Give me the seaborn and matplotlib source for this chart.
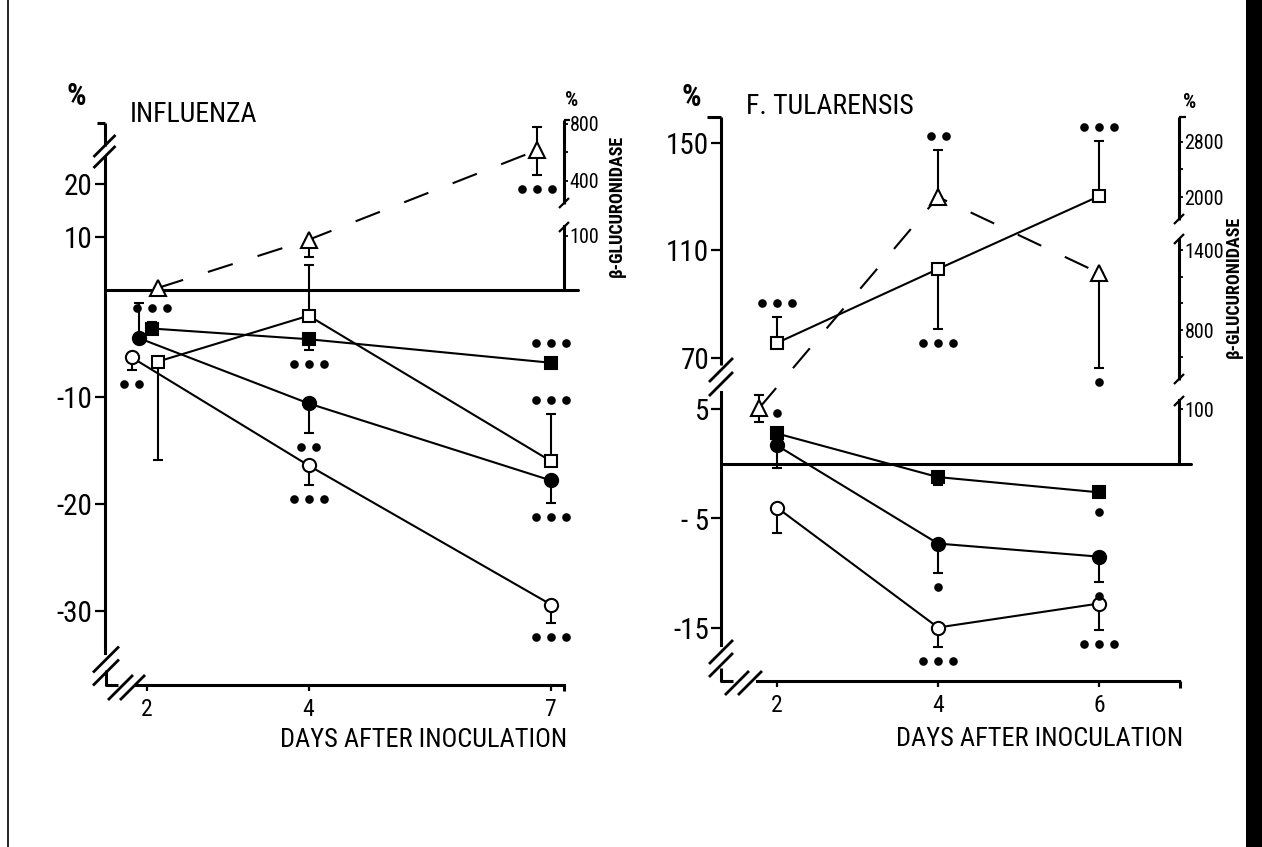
import numpy as np
import matplotlib
matplotlib.use("Agg")
import matplotlib.pyplot as plt
import matplotlib.transforms as mtransforms
from matplotlib.lines import Line2D
from matplotlib.patches import Rectangle
from matplotlib import font_manager
import seaborn as sns

# ---------------- values ----------------
# INFLUENZA (days 2, 4, 7); % change, triangles = beta-glucuronidase (right axis)
flu_days = [2, 4, 7]

flu_ocirc = [-6.3, -16.4, -29.4]
flu_ocirc_lo = [1.2, 1.8, 1.7]
flu_ocirc_hi = [0, 0, 0]
flu_ocirc_sig = [-2, -3, -3]

flu_fcirc = [-4.5, -10.6, -17.8]
flu_fcirc_lo = [0, 2.8, 2.1]
flu_fcirc_hi = [3.3, 0, 0]
flu_fcirc_sig = [0, -2, -3]

flu_fsq = [-3.6, -4.6, -6.8]
flu_fsq_lo = [0, 1.0, 0]
flu_fsq_hi = [0.6, 0, 0]
flu_fsq_sig = [3, -3, 3]

flu_osq = [-6.7, -2.4, -16.0]
flu_osq_lo = [9.2, 0, 0]
flu_osq_hi = [0, 7.1, 4.4]
flu_osq_sig = [0, 0, 3]

flu_gluc = [4, 93, 617]
flu_gluc_lo = [0, 32, 175]
flu_gluc_hi = [0, 0, 161]
flu_gluc_sig = [0, 0, -3]

# F. TULARENSIS (days 2, 4, 6)
tul_days = [2, 4, 6]

tul_ocirc = [-4.0, -15.0, -12.8]
tul_ocirc_lo = [2.3, 1.8, 2.4]
tul_ocirc_hi = [0, 0, 0]
tul_ocirc_sig = [0, -3, -3]

tul_fcirc = [1.7, -7.3, -8.5]
tul_fcirc_lo = [2.1, 2.7, 2.3]
tul_fcirc_hi = [0, 0, 0]
tul_fcirc_sig = [0, -1, -1]

tul_fsq = [2.8, -1.2, -2.6]
tul_fsq_lo = [0, 0.7, 0]
tul_fsq_hi = [0, 0, 0]
tul_fsq_sig = [1, 0, -1]

tul_osq = [75.6, 103.1, 130.2]
tul_osq_lo = [0, 22.3, 0]
tul_osq_hi = [9.7, 0, 20.5]
tul_osq_sig = [3, -3, 3]

tul_gluc = [102, 2000, 1228]
tul_gluc_lo = [26, 0, 713]
tul_gluc_hi = [24, 684, 0]
tul_gluc_sig = [0, 2, -1]

flu_left_ticks = [20, 10, -10, -20, -30]
flu_left_labels = ["20", "10", "-10", "-20", "-30"]
flu_right_ticks = [100, 400, 600, 800]
flu_right_labels = ["100", "400", "", "800"]
tul_left_ticks = [150, 110, 70, 5, -5, -15]
tul_left_labels = ["150", "110", "70", "5", "- 5", "-15"]
tul_right_ticks = [100, 600, 800, 1000, 1200, 1400, 2000, 2400, 2800]
tul_right_labels = ["100", "", "800", "", "", "1400", "2000", "", "2800"]

# ---------------- style / layout ----------------
flu_dx = {"ocirc": [-0.19, 0, 0], "fcirc": [-0.10, 0, 0], "fsq": [0.06, 0, 0],
          "osq": [0.13, 0, 0], "gluc": [0.14, 0, -0.17]}
tul_dx = {"ocirc": [0, 0, 0], "fcirc": [0, 0, 0], "fsq": [0, 0, 0],
          "osq": [0, 0, 0], "gluc": [-0.22, 0, 0]}

STY = {
    "ocirc": dict(marker="o", ms=9.5, mfc="white", ls="-"),
    "fcirc": dict(marker="o", ms=9.5, mfc="black", ls="-"),
    "fsq": dict(marker="s", ms=9, mfc="black", ls="-"),
    "osq": dict(marker="s", ms=8.5, mfc="white", ls="-"),
    "gluc": dict(marker="^", ms=11, mfc="white", ls=(0, (12.5, 12.5))),
}

sns.set_style("white", {"axes.edgecolor": "black", "xtick.color": "black",
                        "ytick.color": "black", "text.color": "black"})

# a narrow face looks closer to the stencil lettering, if one is installed
FONT, STRETCH, K = "DejaVu Sans", "normal", 0.82
narrow = [f for f in font_manager.fontManager.ttflist
          if ("Narrow" in f.name or "Condensed" in f.name
              or str(f.stretch) in ("condensed", "semi-condensed"))
          and str(f.weight) in ("400", "normal", "regular", "book")
          and f.style == "normal"]
if narrow:
    pref = ["Liberation Sans Narrow", "Roboto Condensed", "Noto Sans",
            "Noto Sans Condensed", "Open Sans", "DejaVu Sans"]
    narrow.sort(key=lambda f: pref.index(f.name) if f.name in pref else 99)
    FONT, STRETCH, K = narrow[0].name, str(narrow[0].stretch), 1.0
plt.rcParams["font.family"] = [FONT, "DejaVu Sans"]
plt.rcParams["font.stretch"] = STRETCH

W, H = 1262, 847
fig = plt.figure(figsize=(W / 100, H / 100), dpi=100)
fig.patch.set_facecolor("white")


def rect(l, t, r, b):
    return [l / W, 1 - b / H, (r - l) / W, (b - t) / H]


def broken_scale(xp, fp):
    xp = np.asarray(xp, float)
    fp = np.asarray(fp, float)
    return (lambda v: np.interp(v, xp, fp), lambda p: np.interp(p, fp, xp))


def pline(xs, ys, lw=2.2):
    fig.add_artist(Line2D(np.array(xs, float) / W, 1 - np.array(ys, float) / H,
                          transform=fig.transFigure, color="black", lw=lw,
                          solid_capstyle="butt"))


def breakmark(cx, cy, half=12, lw=2.0):
    pline([cx - half, cx + half], [cy + half, cy - half], lw)


def ftext(x, y, s, **kw):
    fig.text(x / W, 1 - y / H, s, **kw)


def series(ax, days, dx, y, lo, hi, sig, key):
    st = STY[key]
    x = np.asarray(days, float) + np.asarray(dx, float)
    y = np.asarray(y, float)
    lo = np.asarray(lo, float)
    hi = np.asarray(hi, float)
    ax.errorbar(x, y, yerr=[lo, hi], fmt="none", ecolor="black", elinewidth=1.5,
                capsize=3.6, capthick=1.5, zorder=3, clip_on=False)
    sns.lineplot(x=x, y=y, ax=ax, color="black", linewidth=1.5, linestyle=st["ls"],
                 marker=st["marker"], markersize=st["ms"], markerfacecolor=st["mfc"],
                 markeredgecolor="black", markeredgewidth=1.5, sort=False,
                 estimator=None, zorder=4, clip_on=False)
    # significance dots
    for xi, yi, l, h, n in zip(x, y, lo, hi, sig):
        if n == 0:
            continue
        up = n > 0
        end = yi + h if up else yi - l
        gap = 14 if (h if up else l) > 0 else 20
        for o in (np.arange(abs(n)) - (abs(n) - 1) / 2) * 15:
            tr = mtransforms.offset_copy(ax.transData, fig=fig, x=o,
                                         y=gap if up else -gap, units="dots")
            ax.plot([xi], [end], "o", color="black", ms=6.2, mew=0,
                    transform=tr, clip_on=False, zorder=4)


def panel(box, xlim, lfn, rfn, px_lo, px_hi, zero_end):
    ax = fig.add_axes(rect(*box))
    ax.set_yscale("function", functions=lfn)
    ax2 = ax.twinx()
    ax2.set_yscale("function", functions=rfn)
    ax.set_xlim(xlim)
    ax.set_ylim(float(lfn[1](px_lo)), float(lfn[1](px_hi)))
    ax2.set_ylim(float(rfn[1](px_lo)), float(rfn[1](px_hi)))
    for s in ["top", "right"]:
        ax.spines[s].set_visible(False)
    for s in ["top", "left", "bottom"]:
        ax2.spines[s].set_visible(False)
    for sp in list(ax.spines.values()) + list(ax2.spines.values()):
        sp.set_linewidth(2.2)
        sp.set_color("black")
    ax.axhline(0, xmin=0, xmax=(zero_end - box[0]) / (box[2] - box[0]),
               color="black", lw=2.2, clip_on=False, zorder=2)
    ax.tick_params(axis="y", left=True, direction="out", length=7, width=1.6,
                   pad=1.5, labelsize=21 * K)
    ax.tick_params(axis="x", bottom=True, direction="out", length=4.5, width=1.6,
                   pad=4.5, labelsize=17 * K)
    ax2.tick_params(axis="y", right=True, left=False, direction="out", length=3,
                    width=1.3, pad=1, labelsize=14.5 * K)
    ax.set_xlabel("")
    ax.set_ylabel("")
    ax2.set_ylabel("")
    return ax, ax2


# ---------------- INFLUENZA ----------------
FLU_BOX = (104.5, 120, 564, 685)
flu_px_day, flu_px2 = 80.8, 147
flu_xd = lambda px: 2 + (px - flu_px2) / flu_px_day
flu_lfn = broken_scale([-1000, 0, 1000], [-10700, 0, 5300])
flu_rfn = broken_scale([-1e4, 140, 180, 1e4], [-5400, 75.6, 77.65, 1477])
ax, ax2 = panel(FLU_BOX, (flu_xd(104.5), flu_xd(564)), flu_lfn, flu_rfn,
                290 - 685, 290 - 120, 578)
ax.set_yticks(flu_left_ticks, labels=flu_left_labels)
ax.set_xticks(flu_days, labels=[str(d) for d in flu_days])
ax2.set_yticks(flu_right_ticks, labels=flu_right_labels)
ax.spines["left"].set_bounds(float(flu_lfn[1](290 - 653)), float(flu_lfn[1](290 - 157)))
ax.spines["bottom"].set_bounds(flu_xd(135), flu_xd(564))
ax2.spines["right"].set_bounds(0, float(flu_rfn[1](290 - 226)))

series(ax, flu_days, flu_dx["osq"], flu_osq, flu_osq_lo, flu_osq_hi, flu_osq_sig, "osq")
series(ax, flu_days, flu_dx["ocirc"], flu_ocirc, flu_ocirc_lo, flu_ocirc_hi, flu_ocirc_sig, "ocirc")
series(ax, flu_days, flu_dx["fcirc"], flu_fcirc, flu_fcirc_lo, flu_fcirc_hi, flu_fcirc_sig, "fcirc")
series(ax, flu_days, flu_dx["fsq"], flu_fsq, flu_fsq_lo, flu_fsq_hi, flu_fsq_sig, "fsq")
series(ax2, flu_days, flu_dx["gluc"], flu_gluc, flu_gluc_lo, flu_gluc_hi, flu_gluc_sig, "gluc")

# axis decorations (breaks, hooks)
pline([97, 104.5], [123, 123])
pline([104.5, 104.5], [123, 146])
breakmark(104.5, 146, 11)
breakmark(104.5, 157, 11)
breakmark(106, 659.5, 13)
breakmark(106, 672.5, 13)
pline([106, 106, 118], [670, 685, 685])
breakmark(120.5, 687.5, 12.5)
breakmark(132.5, 687.5, 12.5)
pline([564, 564], [685, 691])
pline([564, 564], [204, 120])
pline([564, 570], [120, 120], 1.6)
breakmark(564, 227, 5, 1.6)
breakmark(564, 203, 5, 1.6)

ftext(76, 96, "%", fontsize=22 * K, ha="center", va="center", fontweight="bold")
ftext(130, 114, "INFLUENZA", fontsize=20 * K, ha="left", va="center")
ftext(572, 101, "%", fontsize=15 * K, ha="center", va="center", fontweight="bold")
ftext(617, 206, "β-GLUCURONIDASE", fontsize=13 * K, ha="center", va="center",
      rotation=90, fontweight="bold")
ftext(567, 740, "DAYS AFTER INOCULATION", fontsize=19 * K, ha="right", va="center")

# ---------------- F. TULARENSIS ----------------
TUL_BOX = (721, 117, 1179, 681)
tul_px_day, tul_px2 = 80.5, 777
tul_xd = lambda px: 2 + (px - tul_px2) / tul_px_day
tul_lfn = broken_scale([-1000, 8, 64, 1000], [-10900, 87.2, 89.9, 2605])
tul_rfn = broken_scale([-1e4, 150, 420, 1450, 1800, 1e4],
                       [-5500, 82.5, 83.35, 220.6, 253.25, 817])
bx, bx2 = panel(TUL_BOX, (tul_xd(721), tul_xd(1179)), tul_lfn, tul_rfn,
                464 - 681, 464 - 117, 1191)
bx.set_yticks(tul_left_ticks, labels=tul_left_labels)
bx.set_xticks(tul_days, labels=[str(d) for d in tul_days])
bx2.set_yticks(tul_right_ticks, labels=tul_right_labels)
bx.spines["left"].set_bounds(float(tul_lfn[1](464 - 645)), float(tul_lfn[1](464 - 392)))
bx.spines["bottom"].set_bounds(tul_xd(757), tul_xd(1179))
bx2.spines["right"].set_bounds(0, float(tul_rfn[1](464 - 400)))

series(bx, tul_days, tul_dx["osq"], tul_osq, tul_osq_lo, tul_osq_hi, tul_osq_sig, "osq")
series(bx, tul_days, tul_dx["ocirc"], tul_ocirc, tul_ocirc_lo, tul_ocirc_hi, tul_ocirc_sig, "ocirc")
series(bx, tul_days, tul_dx["fcirc"], tul_fcirc, tul_fcirc_lo, tul_fcirc_hi, tul_fcirc_sig, "fcirc")
series(bx, tul_days, tul_dx["fsq"], tul_fsq, tul_fsq_lo, tul_fsq_hi, tul_fsq_sig, "fsq")
series(bx2, tul_days, tul_dx["gluc"], tul_gluc, tul_gluc_lo, tul_gluc_hi, tul_gluc_sig, "gluc")

pline([707, 721], [117, 117])
pline([721, 721], [117, 365])
breakmark(721, 370, 12)
breakmark(721, 384, 12)
breakmark(721, 652, 12)
breakmark(721, 665, 12)
pline([721, 721, 733], [668, 681, 681])
breakmark(737, 683, 12)
breakmark(750, 683, 12)
pline([1180, 1180], [681, 688])
pline([1179, 1179], [380, 238])
pline([1179, 1179], [220, 117])
pline([1179, 1186], [117, 117], 1.6)
for yb in (401, 379, 239, 219):
    breakmark(1179, yb, 5, 1.6)

ftext(691, 97, "%", fontsize=22 * K, ha="center", va="center", fontweight="bold")
ftext(746, 107, "F. TULARENSIS", fontsize=20 * K, ha="left", va="center")
ftext(1190, 102, "%", fontsize=15 * K, ha="center", va="center", fontweight="bold")
ftext(1234, 287, "β-GLUCURONIDASE", fontsize=13 * K, ha="center", va="center",
      rotation=90, fontweight="bold")
ftext(1183, 739, "DAYS AFTER INOCULATION", fontsize=19 * K, ha="right", va="center")

# scan edges
fig.add_artist(Rectangle((1246 / W, 0), 16 / W, 1, transform=fig.transFigure,
                         color="black", lw=0))
pline([8, 8], [0, 847], 1.2)

fig.savefig("out.png", dpi=100)
